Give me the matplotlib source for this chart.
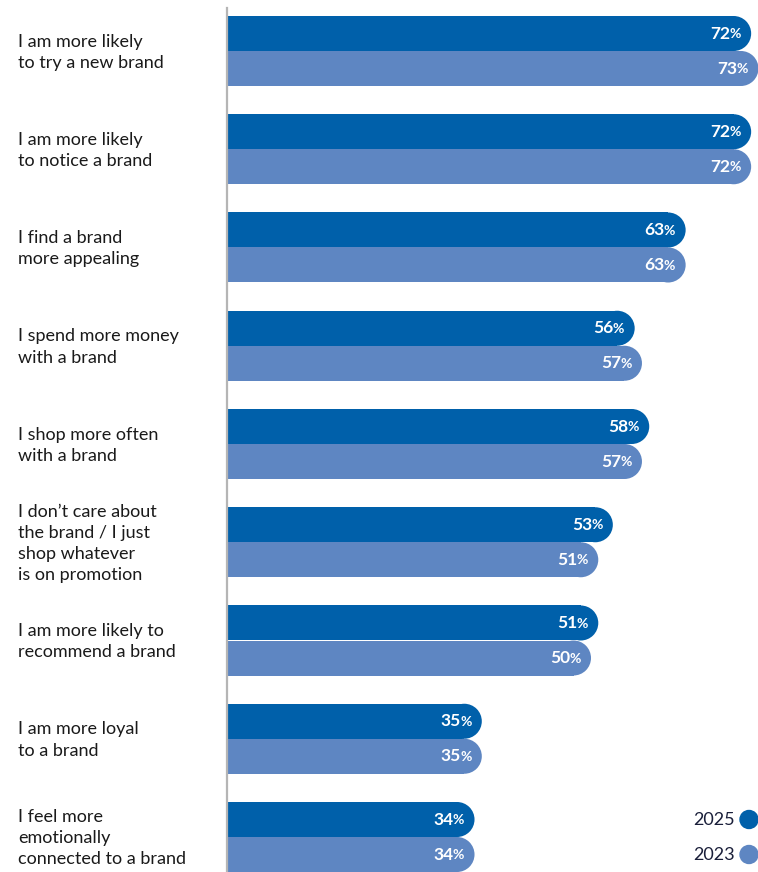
import matplotlib.pyplot as plt
from matplotlib.patches import Ellipse

# data
labels = [
    "I am more likely\nto try a new brand",
    "I am more likely\nto notice a brand",
    "I find a brand\nmore appealing",
    "I spend more money\nwith a brand",
    "I shop more often\nwith a brand",
    "I don\u2019t care about\nthe brand / I just\nshop whatever\nis on promotion",
    "I am more likely to\nrecommend a brand",
    "I am more loyal\nto a brand",
    "I feel more\nemotionally\nconnected to a brand",
]
v2025 = [72, 72, 63, 56, 58, 53, 51, 35, 34]
v2023 = [73, 72, 63, 57, 57, 51, 50, 35, 34]
years = ["2025", "2023"]

dark = "#0060aa"
light = "#5e86c2"
text_col = "#1a1a1a"

W, H = 758, 872
fig = plt.figure(figsize=(W / 100, H / 100), dpi=100)

# axes placed in pixel terms
ax_left, ax_right = 227, 758
ax_top, ax_bot = 8, 872
ax = fig.add_axes([ax_left / W, 1 - ax_bot / H, (ax_right - ax_left) / W, (ax_bot - ax_top) / H])

px_per_pct = 7.28
group_px = 98.25
first_px = 51
xmax = (ax_right - ax_left) / px_per_pct
ax.set_xlim(0, xmax)
ax.set_ylim((ax_bot - first_px) / group_px, (ax_top - first_px) / group_px)
ax.axis("off")

bar_h = 35 / group_px
r_x = 17.5 / px_per_pct  # end-cap radius in data units

for i in range(len(labels)):
    for v, off, col in [(v2025[i], -bar_h / 2, dark), (v2023[i], bar_h / 2, light)]:
        y = i + off
        ax.barh(y, v - r_x, height=bar_h, color=col, edgecolor="none")
        ax.add_patch(Ellipse((v - r_x, y), 2 * r_x, bar_h, color=col, lw=0))
        pct = ax.annotate("%", xy=(v, y), xytext=(-7.5, -0.5), textcoords="offset points",
                          ha="right", va="center", color="white", fontsize=10,
                          fontweight="bold", family="Lato")
        ax.annotate(str(v), xy=(0.08, 0.55), xycoords=pct, ha="right", va="center",
                    color="white", fontsize=12.5, fontweight="bold", family="Lato")
    ax.text(-209 / px_per_pct, i + 0.012, labels[i], ha="left", va="center", fontsize=13,
            color=text_col, family="Lato", linespacing=1.4)

# vertical axis line
ax.plot([0, 0], [ax.get_ylim()[0], ax.get_ylim()[1]], color="#b5b5b5", lw=1.6,
        clip_on=False)

# legend at bottom right
for k, col in enumerate([dark, light]):
    ypx = 819.5 + 35 * k
    fig.text(735 / W, 1 - ypx / H, years[k], ha="right", va="center", fontsize=13,
             color="#1a1f3a", family="Lato")
    fig.patches.append(Ellipse((749 / W, 1 - ypx / H), 18 / W, 18 / H, color=col,
                               transform=fig.transFigure, figure=fig))

fig.savefig("out.png", dpi=100)
